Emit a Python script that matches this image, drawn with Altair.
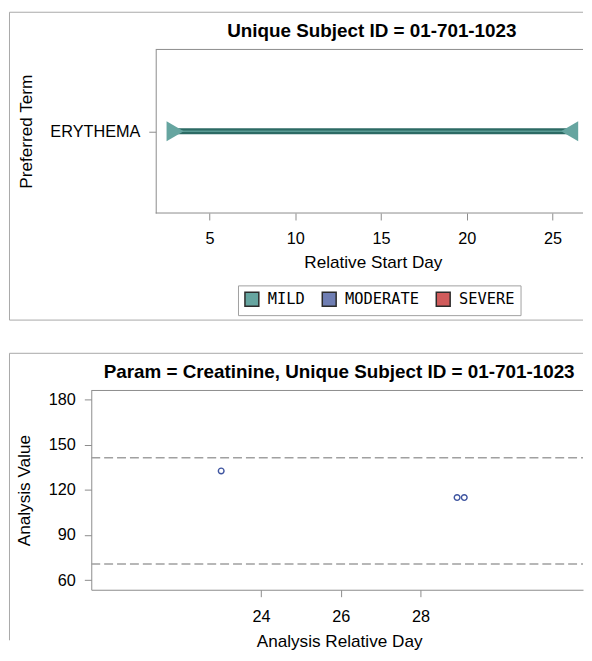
import altair as alt
import pandas as pd

# ---------------- data ----------------
ae_terms = ["ERYTHEMA"]
ae_start = [3]
ae_end = [26]
ae_sev = ["MILD"]
sev_levels = ["MILD", "MODERATE", "SEVERE"]
sev_colors = ["#66A5A0", "#6F7EB3", "#D05B5B"]

lab_day = [23, 28.92, 29.1]
lab_val = [132.6, 114.9, 114.9]
ref_vals = [70.72, 141.44]

x1_ticks = [5, 10, 15, 20, 25]
x2_ticks = [24, 26, 28]
y2_ticks = [60, 90, 120, 150, 180]

title1 = "Unique Subject ID = 01-701-1023"
title2 = "Param = Creatinine, Unique Subject ID = 01-701-1023"

# ---------------- tables ----------------
ae_df = pd.DataFrame({"term": ae_terms, "day": ae_start, "day_end": ae_end, "sev": ae_sev})
tri_df = pd.DataFrame({
    "term": ae_terms + ae_terms,
    "day": ae_start + ae_end,
    "sev": ae_sev + ae_sev,
    "shp": ["triangle-right"] * len(ae_terms) + ["triangle-left"] * len(ae_terms),
})
lab_df = pd.DataFrame({"day": lab_day, "val": lab_val})
ref_df = pd.DataFrame({"val": ref_vals})
one = pd.DataFrame({"k": [0]})

W = 496          # both panels: plot origin at page x=92
L1 = 65          # top panel's frame starts 65px right of origin
H1 = 165
H2 = 201
BL = -82.5       # outer border left
BT = -37.5       # outer border top
BORDER = "#a8a8a8"
FRAME = "#8c8c8c"
TFONT = "Liberation Sans"


def title_text(txt, xpos):
    return alt.Chart(one).mark_text(
        font=TFONT, fontSize=19, fontWeight="bold", color="black",
        align="center", baseline="alphabetic",
    ).encode(x=alt.value(xpos), y=alt.value(-12.5), text=alt.value(txt))


def hrule(x1, x2, y, color):
    return alt.Chart(one).mark_rule(color=color, strokeWidth=1).encode(
        x=alt.value(x1), x2=alt.value(x2), y=alt.value(y))


def vrule(x, y1, y2, color):
    return alt.Chart(one).mark_rule(color=color, strokeWidth=1).encode(
        x=alt.value(x), y=alt.value(y1), y2=alt.value(y2))


# ---------------- top panel ----------------
xs1 = alt.Scale(domain=[-1.89, 26.78], nice=False, zero=False)
ys1 = alt.Scale(type="point", padding=0.5)
xax1 = alt.Axis(values=x1_ticks, title="Relative Start Day", domain=False, titleX=284,
                labelPadding=11, titlePadding=7)
yax1 = alt.Axis(title="Preferred Term", offset=-L1)

bar_outer = alt.Chart(ae_df).mark_rule(color="#2C6A64", strokeWidth=6).encode(
    x=alt.X("day:Q", scale=xs1, axis=xax1),
    x2="day_end:Q",
    y=alt.Y("term:N", scale=ys1, axis=yax1),
)
bar_inner = alt.Chart(ae_df).mark_rule(color="#5A9B94", strokeWidth=1.5).encode(
    x=alt.X("day:Q", scale=xs1, axis=xax1),
    x2="day_end:Q",
    y=alt.Y("term:N", scale=ys1, axis=yax1),
)
tris = alt.Chart(tri_df).mark_point(filled=True, size=400, opacity=1).encode(
    x=alt.X("day:Q", scale=xs1, axis=xax1),
    y=alt.Y("term:N", scale=ys1, axis=yax1),
    shape=alt.Shape("shp:N", scale=None),
    color=alt.Color(
        "sev:N",
        scale=alt.Scale(domain=sev_levels, range=sev_colors),
        legend=alt.Legend(
            title=None, orient="none", legendX=148, legendY=238,
            direction="horizontal", symbolType="square", symbolSize=196,
            symbolStrokeColor="#2b2b2b", symbolStrokeWidth=1.5,
            labelFont="DejaVu Sans Mono", labelFontSize=15.5, labelColor="black",
            strokeColor="#a0a0a0", fillColor="white", padding=6,
            columnPadding=14, labelOffset=8,
        ),
    ),
)

top = alt.layer(
    vrule(BL, BT, 273, BORDER), hrule(BL, W, BT, BORDER), hrule(BL, W, 273, BORDER),
    hrule(L1, W, 0, FRAME), hrule(L1, W, H1, FRAME),
    bar_outer, bar_inner, tris,
    title_text(title1, 283),
).properties(width=W, height=H1)

# ---------------- bottom panel ----------------
xs2 = alt.Scale(domain=[19.74, 32.08], nice=False, zero=False)
ys2 = alt.Scale(domain=[53.6, 186.1], nice=False, zero=False)
xax2 = alt.Axis(values=x2_ticks, title="Analysis Relative Day", labelPadding=12,
                titlePadding=8, titleX=250)
yax2 = alt.Axis(values=y2_ticks, title="Analysis Value")

refs = alt.Chart(ref_df).mark_rule(color="#a0a0a0", strokeWidth=1.5, strokeDash=[9, 4]).encode(
    y=alt.Y("val:Q", scale=ys2, axis=yax2),
    x=alt.value(0), x2=alt.value(W),
)
pts = alt.Chart(lab_df).mark_point(shape="circle", filled=False, size=33, strokeWidth=1.4,
                                   color="#3F55A0", opacity=1).encode(
    x=alt.X("day:Q", scale=xs2, axis=xax2),
    y=alt.Y("val:Q", scale=ys2, axis=yax2),
)

bottom = alt.layer(
    vrule(BL, BT, 252, BORDER), hrule(BL, W, BT, BORDER),
    hrule(0, W, 0, FRAME),
    refs, pts,
    title_text(title2, 250),
).properties(width=W, height=H2)

chart = alt.vconcat(top, bottom, spacing=32).resolve_legend(color="independent").properties(
    padding={"left": 1, "top": 1, "right": 0, "bottom": 0},
).configure_view(strokeWidth=0).configure_axis(
    domainColor=FRAME, tickColor=FRAME, tickSize=7, grid=False,
    labelFont="Liberation Sans", labelFontSize=16.4, labelColor="black",
    titleFont="Liberation Sans", titleFontSize=17.3, titleFontWeight="normal", titleColor="black",
    labelPadding=8, titlePadding=8,
).configure_axisY(titlePadding=15, labelPadding=9)

chart.save("out.html", embed_options={"renderer": "svg", "actions": False})
